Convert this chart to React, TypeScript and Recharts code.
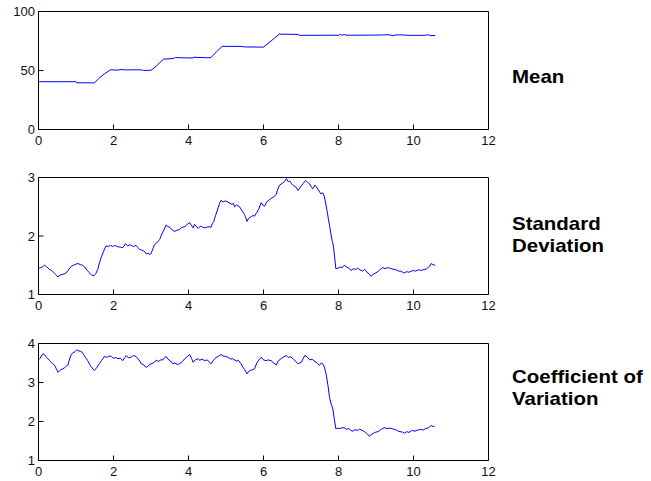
import React from 'react';
import { LineChart, Line, XAxis, YAxis } from 'recharts';

// x ticks shared by the three panels
const xTicks = [0, 2, 4, 6, 8, 10, 12];

// Mean (top panel)
const meanTicks = [0, 50, 100];
const meanPts: [number, number][] = [
  [0, 40.5], [0.5, 40.5], [1.0, 40.5], [1.02, 39.6], [1.49, 39.5], [1.6, 43], [1.75, 47],
  [1.92, 50.6], [2.1, 50.3], [2.2, 50.8], [2.35, 50.5], [2.6, 50.6], [2.75, 50.5], [2.8, 50.0],
  [3.0, 50.2], [3.15, 54], [3.33, 59.6], [3.6, 60.2], [3.65, 61], [3.8, 60.8], [4.1, 60.6],
  [4.15, 61.2], [4.5, 60.8], [4.6, 61], [4.75, 66], [4.9, 70.5], [5.4, 70.4], [5.5, 70],
  [6.0, 69.8], [6.2, 75], [6.42, 80.8], [6.93, 80.6], [6.95, 79.8], [8.0, 79.9], [8.05, 80.6],
  [8.1, 79.8], [8.15, 80.5], [8.2, 79.9], [9.0, 80.0], [9.35, 80.3], [9.45, 79.5], [9.55, 80.2],
  [9.7, 80.2], [9.85, 79.8], [10.3, 79.8], [10.38, 80.3], [10.45, 79.6], [10.58, 79.7],
];

// Standard deviation (middle panel)
const stdTicks = [1, 2, 3];
const stdPts: [number, number][] = [
  [0.0, 1.44], [0.05, 1.46], [0.1, 1.47], [0.16, 1.5], [0.22, 1.47], [0.29, 1.43], [0.35, 1.41],
  [0.4, 1.38], [0.46, 1.34], [0.52, 1.3], [0.57, 1.33], [0.62, 1.34], [0.68, 1.35], [0.74, 1.37],
  [0.8, 1.42], [0.87, 1.48], [0.93, 1.5], [1.0, 1.52], [1.05, 1.53], [1.12, 1.51], [1.18, 1.5],
  [1.23, 1.47], [1.3, 1.41], [1.36, 1.37], [1.42, 1.33], [1.48, 1.32], [1.53, 1.36], [1.58, 1.43],
  [1.63, 1.55], [1.67, 1.63], [1.73, 1.73], [1.8, 1.83], [1.86, 1.82], [1.92, 1.84], [1.98, 1.82],
  [2.03, 1.84], [2.1, 1.82], [2.18, 1.81], [2.25, 1.8], [2.32, 1.87], [2.38, 1.83], [2.43, 1.85],
  [2.47, 1.84], [2.53, 1.82], [2.6, 1.84], [2.65, 1.8], [2.69, 1.77], [2.75, 1.76], [2.82, 1.74],
  [2.88, 1.69], [2.92, 1.71], [2.97, 1.68], [3.0, 1.7], [3.05, 1.78], [3.09, 1.85], [3.15, 1.88],
  [3.23, 1.94], [3.3, 2.05], [3.36, 2.12], [3.4, 2.19], [3.45, 2.16], [3.5, 2.15], [3.57, 2.1],
  [3.63, 2.08], [3.7, 2.1], [3.76, 2.11], [3.8, 2.14], [3.85, 2.15], [3.92, 2.17], [3.97, 2.2],
  [4.03, 2.23], [4.08, 2.18], [4.12, 2.14], [4.16, 2.2], [4.2, 2.17], [4.26, 2.13], [4.32, 2.17],
  [4.38, 2.15], [4.45, 2.14], [4.52, 2.16], [4.6, 2.15], [4.64, 2.22], [4.67, 2.24], [4.72, 2.35],
  [4.79, 2.48], [4.83, 2.56], [4.87, 2.61], [4.92, 2.58], [4.98, 2.6], [5.05, 2.58], [5.1, 2.56],
  [5.16, 2.54], [5.2, 2.56], [5.23, 2.5], [5.28, 2.53], [5.36, 2.5], [5.42, 2.44], [5.49, 2.37],
  [5.53, 2.31], [5.56, 2.25], [5.6, 2.3], [5.67, 2.33], [5.72, 2.35], [5.76, 2.34], [5.82, 2.4],
  [5.88, 2.47], [5.94, 2.57], [5.98, 2.53], [6.03, 2.51], [6.08, 2.58], [6.14, 2.61], [6.2, 2.64],
  [6.27, 2.67], [6.34, 2.71], [6.38, 2.8], [6.43, 2.87], [6.5, 2.9], [6.56, 2.93], [6.61, 2.98],
  [6.66, 2.93], [6.7, 2.94], [6.74, 2.9], [6.8, 2.86], [6.86, 2.84], [6.92, 2.78], [6.97, 2.82],
  [7.01, 2.86], [7.06, 2.9], [7.12, 2.95], [7.17, 2.92], [7.23, 2.89], [7.28, 2.83], [7.32, 2.81],
  [7.37, 2.87], [7.4, 2.85], [7.45, 2.8], [7.5, 2.75], [7.53, 2.72], [7.58, 2.74], [7.62, 2.68],
  [7.67, 2.52], [7.71, 2.37], [7.76, 2.18], [7.8, 2.03], [7.83, 1.92], [7.86, 1.85], [7.9, 1.62],
  [7.93, 1.44], [7.98, 1.45], [8.05, 1.47], [8.1, 1.46], [8.15, 1.5], [8.22, 1.47], [8.28, 1.45],
  [8.33, 1.41], [8.4, 1.44], [8.46, 1.43], [8.51, 1.45], [8.57, 1.42], [8.64, 1.4], [8.7, 1.43],
  [8.76, 1.38], [8.82, 1.35], [8.87, 1.31], [8.93, 1.35], [9.0, 1.37], [9.06, 1.4], [9.12, 1.43],
  [9.18, 1.46], [9.24, 1.44], [9.3, 1.46], [9.36, 1.45], [9.42, 1.44], [9.48, 1.43], [9.54, 1.42],
  [9.6, 1.4], [9.66, 1.4], [9.71, 1.38], [9.76, 1.37], [9.82, 1.39], [9.88, 1.38], [9.94, 1.4],
  [10.0, 1.41], [10.06, 1.4], [10.12, 1.42], [10.16, 1.42], [10.22, 1.41], [10.28, 1.43],
  [10.34, 1.43], [10.4, 1.47], [10.44, 1.49], [10.47, 1.53], [10.52, 1.51], [10.58, 1.5],
];

// Coefficient of variation (bottom panel)
const cvTicks = [1, 2, 3, 4];
const cvPts: [number, number][] = [
  [0.0, 3.58], [0.04, 3.62], [0.08, 3.68], [0.12, 3.74], [0.17, 3.7], [0.22, 3.64], [0.29, 3.57],
  [0.33, 3.52], [0.38, 3.48], [0.43, 3.44], [0.48, 3.34], [0.52, 3.26], [0.56, 3.3], [0.6, 3.33],
  [0.65, 3.35], [0.7, 3.38], [0.74, 3.42], [0.78, 3.44], [0.83, 3.6], [0.87, 3.72], [0.92, 3.76],
  [0.97, 3.79], [1.02, 3.84], [1.07, 3.81], [1.12, 3.8], [1.16, 3.78], [1.21, 3.71], [1.25, 3.65],
  [1.31, 3.56], [1.38, 3.44], [1.43, 3.37], [1.49, 3.31], [1.55, 3.38], [1.62, 3.48], [1.68, 3.56],
  [1.76, 3.67], [1.82, 3.64], [1.88, 3.68], [1.94, 3.67], [2.0, 3.62], [2.06, 3.64], [2.12, 3.61],
  [2.18, 3.62], [2.25, 3.56], [2.3, 3.64], [2.34, 3.69], [2.4, 3.63], [2.47, 3.65], [2.53, 3.69],
  [2.6, 3.67], [2.66, 3.6], [2.7, 3.55], [2.74, 3.48], [2.8, 3.46], [2.85, 3.4], [2.88, 3.39],
  [2.94, 3.44], [3.0, 3.48], [3.06, 3.5], [3.14, 3.57], [3.2, 3.54], [3.26, 3.58], [3.32, 3.58],
  [3.36, 3.63], [3.4, 3.67], [3.45, 3.6], [3.52, 3.55], [3.58, 3.48], [3.64, 3.5], [3.7, 3.46],
  [3.76, 3.48], [3.82, 3.52], [3.9, 3.61], [3.96, 3.66], [4.03, 3.72], [4.08, 3.62], [4.12, 3.52],
  [4.18, 3.58], [4.25, 3.61], [4.3, 3.57], [4.36, 3.6], [4.43, 3.56], [4.5, 3.58], [4.56, 3.52],
  [4.6, 3.48], [4.66, 3.56], [4.74, 3.65], [4.8, 3.67], [4.87, 3.72], [4.92, 3.68], [4.98, 3.67],
  [5.05, 3.65], [5.12, 3.6], [5.18, 3.61], [5.23, 3.58], [5.28, 3.55], [5.33, 3.57], [5.4, 3.48],
  [5.45, 3.39], [5.5, 3.33], [5.56, 3.22], [5.6, 3.28], [5.67, 3.32], [5.72, 3.33], [5.76, 3.35],
  [5.82, 3.5], [5.88, 3.58], [5.94, 3.65], [6.0, 3.58], [6.07, 3.56], [6.12, 3.58], [6.2, 3.56],
  [6.27, 3.5], [6.34, 3.45], [6.4, 3.56], [6.47, 3.61], [6.54, 3.66], [6.61, 3.69], [6.66, 3.64],
  [6.72, 3.66], [6.79, 3.61], [6.85, 3.55], [6.92, 3.48], [6.97, 3.5], [7.01, 3.52], [7.06, 3.62],
  [7.1, 3.69], [7.16, 3.66], [7.23, 3.58], [7.3, 3.6], [7.35, 3.55], [7.4, 3.52], [7.45, 3.48],
  [7.49, 3.44], [7.54, 3.5], [7.58, 3.48], [7.62, 3.4], [7.67, 3.22], [7.72, 2.92], [7.76, 2.62],
  [7.8, 2.46], [7.85, 2.32], [7.89, 2.05], [7.93, 1.81], [7.98, 1.83], [8.04, 1.82], [8.1, 1.84],
  [8.15, 1.84], [8.21, 1.8], [8.27, 1.82], [8.33, 1.77], [8.38, 1.75], [8.44, 1.79], [8.5, 1.77],
  [8.56, 1.8], [8.6, 1.79], [8.66, 1.76], [8.72, 1.72], [8.77, 1.68], [8.82, 1.62], [8.88, 1.67],
  [8.94, 1.7], [9.0, 1.73], [9.06, 1.74], [9.12, 1.79], [9.18, 1.82], [9.22, 1.84], [9.3, 1.82],
  [9.38, 1.83], [9.45, 1.81], [9.52, 1.79], [9.58, 1.76], [9.64, 1.74], [9.7, 1.73], [9.76, 1.7],
  [9.82, 1.74], [9.88, 1.72], [9.94, 1.76], [9.98, 1.77], [10.04, 1.75], [10.1, 1.78],
  [10.16, 1.79], [10.2, 1.8], [10.26, 1.78], [10.32, 1.82], [10.38, 1.83], [10.43, 1.86],
  [10.47, 1.9], [10.52, 1.87], [10.56, 1.88],
];

const tickFont = { fill: '#111', fontSize: 13, fontFamily: 'Liberation Sans, Arial, sans-serif' };

function toRows(pts: [number, number][]) {
  return pts.map(([x, y]) => ({ x, y }));
}

interface PanelProps {
  pts: [number, number][];
  yTicks: number[];
  top: number;
  plotH: number;
}

function Panel({ pts, yTicks, top, plotH }: PanelProps) {
  const domain = [yTicks[0], yTicks[yTicks.length - 1]];
  return (
    <div style={{ position: 'absolute', left: 0, top }}>
      <LineChart
        width={500}
        height={11.5 + plotH + 25 + 0.5}
        data={toRows(pts)}
        margin={{ top: 10.5, right: 10.5, bottom: 0.5, left: 0 }}
      >
        <XAxis
          dataKey="x"
          type="number"
          domain={[0, 12]}
          ticks={xTicks}
          interval={0}
          allowDataOverflow
          height={25}
          stroke="#000"
          tickSize={-5}
          tickMargin={11}
          tick={tickFont}
        />
        {/* mirrored axis on top, only the line and inward ticks */}
        <XAxis
          xAxisId="top"
          orientation="top"
          dataKey="x"
          type="number"
          domain={[0, 12]}
          ticks={xTicks}
          interval={0}
          allowDataOverflow
          height={1}
          stroke="#000"
          tickSize={-5}
          tick={false}
        />
        <YAxis
          type="number"
          domain={domain}
          ticks={yTicks}
          interval={0}
          allowDataOverflow
          width={38.5}
          stroke="#000"
          tickSize={-5}
          tickMargin={8.5}
          tick={tickFont}
        />
        <YAxis
          yAxisId="right"
          orientation="right"
          dataKey="y"
          type="number"
          domain={domain}
          ticks={yTicks}
          interval={0}
          allowDataOverflow
          width={1}
          stroke="#000"
          tickSize={-5}
          tick={false}
        />
        <Line
          type="linear"
          dataKey="y"
          stroke="#0000ff"
          strokeWidth={1}
          dot={false}
          isAnimationActive={false}
        />
        {/* invisible copy so the mirrored axes get a domain */}
        <Line
          xAxisId="top"
          yAxisId="right"
          type="linear"
          dataKey="y"
          stroke="none"
          dot={false}
          activeDot={false}
          isAnimationActive={false}
        />
      </LineChart>
    </div>
  );
}

const labelStyle = {
  fontFamily: 'Liberation Sans, Arial, sans-serif',
  fontWeight: 700,
  fontSize: 17.5,
  fill: '#000',
};

export default function App() {
  return (
    <div style={{ position: 'absolute', left: 0, top: 0, width: 651, height: 481, background: '#fff' }}>
      <Panel pts={meanPts} yTicks={meanTicks} top={0} plotH={118} />
      <Panel pts={stdPts} yTicks={stdTicks} top={166} plotH={117} />
      <Panel pts={cvPts} yTicks={cvTicks} top={332} plotH={117} />
      <svg width={651} height={481} style={{ position: 'absolute', left: 0, top: 0, pointerEvents: 'none' }}>
        <text transform="translate(512,82.7) scale(1.17,1)" style={labelStyle}>Mean</text>
        <text transform="translate(512,230) scale(1.17,1)" style={labelStyle}>Standard</text>
        <text transform="translate(512,251.7) scale(1.17,1)" style={labelStyle}>Deviation</text>
        <text transform="translate(512,383.3) scale(1.17,1)" style={labelStyle}>Coefficient of</text>
        <text transform="translate(512,405) scale(1.17,1)" style={labelStyle}>Variation</text>
      </svg>
    </div>
  );
}
